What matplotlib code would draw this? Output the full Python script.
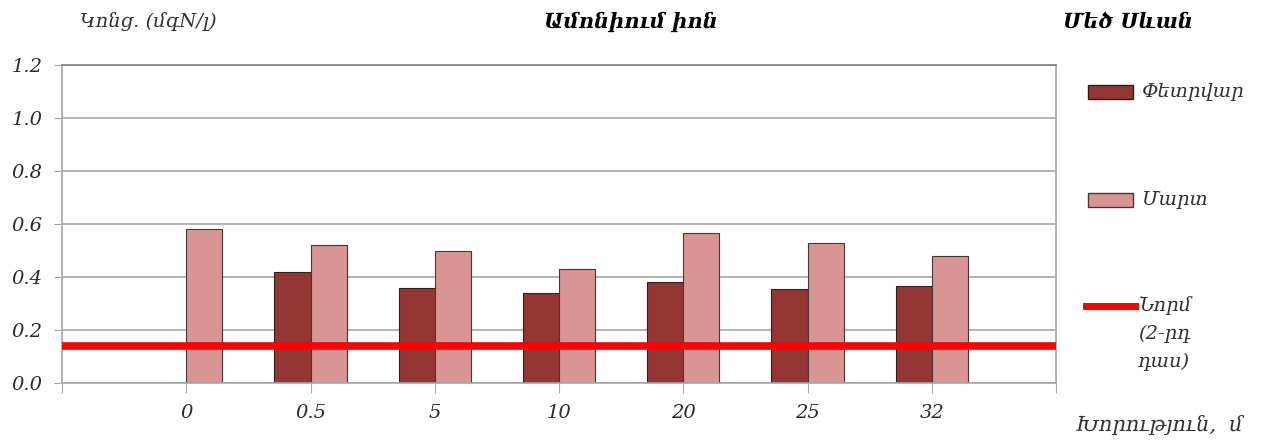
import numpy as np
import matplotlib.pyplot as plt
from matplotlib.patches import Rectangle
from matplotlib.lines import Line2D

plt.rcParams['font.family'] = ['DejaVu Serif', 'DejaVu Sans']

# depth, m
depths = ["0", "0.5", "5", "10", "20", "25", "32"]
# ammonium, mgN/l
feb = [np.nan, 0.42, 0.36, 0.34, 0.38, 0.355, 0.365]
mar = [0.58, 0.52, 0.50, 0.43, 0.565, 0.53, 0.48]
norm = 0.14

c_feb = '#943634'
c_mar = '#d99594'
c_norm = '#ff0000'
c_grid = '#a6a6a6'

fig = plt.figure(figsize=(12.64, 4.4), dpi=100)
ax = fig.add_axes([62/1264, 1-383/440, (1056-62)/1264, (383-65)/440])

x = np.arange(1, len(depths) + 1)
w = 0.29
ax.bar(x, feb, width=-w, align='edge', color=c_feb, edgecolor='#3a1a1a', linewidth=0.8, zorder=2)
ax.bar(x, mar, width=w, align='edge', color=c_mar, edgecolor='#4a3535', linewidth=0.8, zorder=2)
ax.axhline(norm, color=c_norm, lw=5.5, zorder=3)

ax.set_xlim(0, 8)
ax.set_ylim(0, 1.2)
yt = np.arange(0, 1.21, 0.2)
ax.set_yticks(yt)
ax.set_yticklabels([f"{v:.1f}" for v in yt], fontsize=14, style='italic')
ax.set_xticks(np.arange(0, 9))
ax.set_xticklabels([""] + depths + [""], fontsize=14, style='italic')
ax.tick_params(axis='x', length=7, color=c_grid, pad=8)
ax.tick_params(axis='y', length=6, color=c_grid, pad=8)
for lab in ax.get_yticklabels() + ax.get_xticklabels():
    lab.set_color('#2b2b2b')
ax.grid(axis='y', color=c_grid, lw=1.2, zorder=0)
ax.set_axisbelow(True)
for s in ax.spines.values():
    s.set_color(c_grid)
    s.set_linewidth(1.2)
ax.spines['top'].set_color('#808080')

# headers
fig.text(80/1264, 1-22/440, "Կոնց. (մգN/լ)", fontsize=14, style='italic', va='center', color='#333333')
fig.text(631/1264, 1-22/440, "Ամոնիում իոն", fontsize=15, style='italic', weight='bold', ha='center', va='center')
fig.text(1063/1264, 1-22/440, "Մեծ Սևան", fontsize=15, style='italic', weight='bold', va='center')
fig.text(1076/1264, 1-425/440, "Խորություն,  մ", fontsize=15, style='italic', va='center', color='#333333')

# legend on the right
fig.add_artist(Rectangle((1088/1264, 1-99/440), 45/1264, 14/440, transform=fig.transFigure,
                         facecolor=c_feb, edgecolor='#3a1a1a', lw=1))
fig.text(1142/1264, 1-92/440, "Փետրվար", fontsize=14, style='italic', va='center', color='#333333')
fig.add_artist(Rectangle((1088/1264, 1-207/440), 45/1264, 14/440, transform=fig.transFigure,
                         facecolor=c_mar, edgecolor='#4a3535', lw=1))
fig.text(1142/1264, 1-200/440, "Մարտ", fontsize=14, style='italic', va='center', color='#333333')
fig.add_artist(Line2D([1086/1264, 1135/1264], [1-306/440, 1-306/440], transform=fig.transFigure,
                      color=c_norm, lw=5))
for i, t in enumerate(["Նորմ", "(2-րդ", "դաս)"]):
    fig.text(1138/1264, 1-(306 + 28*i)/440, t, fontsize=14, style='italic', va='center', color='#333333')

fig.savefig("out.png", dpi=100)
